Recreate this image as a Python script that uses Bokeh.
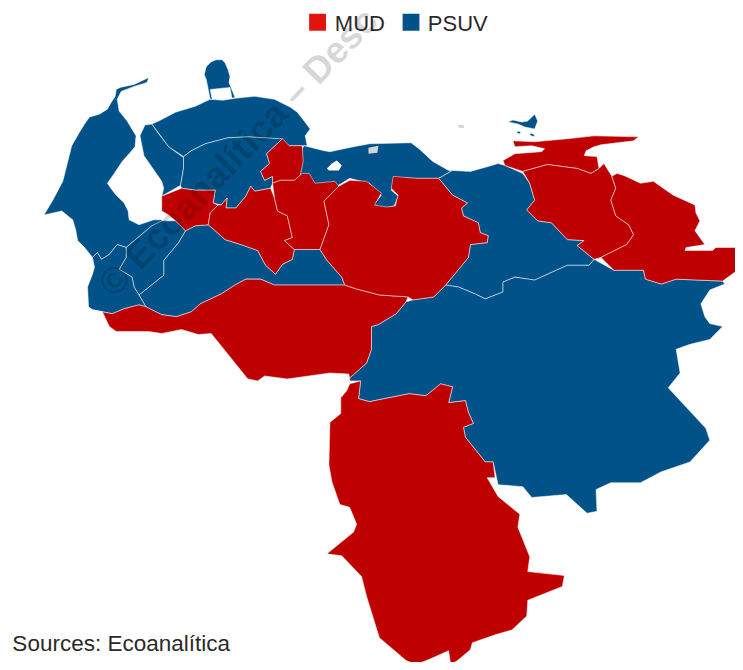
from bokeh.plotting import figure
from bokeh.embed import file_html
from bokeh.resources import INLINE
from bokeh.models import Range1d
from bokeh.core.properties import value

RED = "#bf0000"
BLUE = "#005288"
LEG_RED = "#e3140d"
LEG_BLUE = "#00538a"

zulia_w = [(150,78),(148,83),(135,87),(122,92),(118,100),(120,112),(128,122),(137,137),(136,148),(130,155),(123,163),(115,175),(108,185),(113,192),(117,197),(125,205),(129,213),(130,222),(140,227),(155,222),(163,222),(165,226),(153,228),(127,250),(118,247),(110,257),(102,262),(98,255),(93,260),(85,250),(78,243),(76,232),(73,222),(62,213),(44,217),(53,202),(63,183),(67,167),(70,155),(72,147),(80,133),(85,125),(90,118),(100,115),(108,110),(112,103),(116,97),(117,90),(121,88),(135,85)]
zulia_e = [(141,137),(146,126),(153,125),(160,135),(170,148),(185,159),(185,170),(182,187),(163,198),(165,190),(163,183),(145,157)]
falcon = [(153,125),(160,122),(177,113),(197,107),(212,100),(225,101),(237,99),(257,97),(277,100),(293,108),(300,113),(307,122),(313,130),(308,137),(310,147),(305,147),(292,147),(280,140),(250,138),(230,139),(207,145),(193,152),(185,158),(170,148)]
paraguana = [(218,60),(224,60),(227,63),(230,70),(232,77),(231,83),(237,98),(234,99),(232,88),(212,90),(214,100),(212,100),(210,90),(208,80),(206,75),(208,67),(213,62)]
lara = [(185,158),(193,152),(207,145),(230,139),(250,138),(285,140),(269,155),(272,165),(263,173),(267,182),(275,178),(275,185),(273,190),(257,193),(253,188),(248,198),(238,210),(228,210),(229,200),(223,207),(215,205),(217,192),(197,192),(183,190),(182,187),(185,170)]
trujillo = [(163,198),(183,190),(197,192),(217,192),(215,205),(220,207),(212,215),(210,227),(197,228),(187,233),(177,223),(170,217),(163,213)]
portuguesa = [(210,227),(212,215),(220,207),(223,207),(229,200),(228,210),(238,210),(248,198),(253,188),(257,193),(273,190),(277,200),(280,213),(290,218),(295,240),(287,243),(297,252),(295,262),(285,267),(278,277),(268,268),(260,253),(243,247),(227,242),(217,233)]
yaracuy = [(285,140),(292,147),(305,147),(306,163),(303,177),(297,182),(283,182),(275,185),(275,178),(267,182),(263,173),(272,165),(269,155)]
cojedes = [(275,185),(283,182),(297,182),(305,175),(312,175),(318,185),(338,183),(342,188),(327,203),(332,227),(323,252),(308,252),(297,252),(287,243),(295,240),(290,218),(280,213),(277,200)]
barinas = [(187,233),(197,228),(210,227),(217,233),(227,242),(243,247),(260,253),(268,268),(278,277),(285,267),(295,262),(297,252),(323,252),(330,263),(345,280),(348,288),(323,288),(307,288),(290,288),(277,288),(263,282),(248,282),(237,288),(223,297),(202,307),(193,315),(178,320),(163,318),(147,310),(140,298),(165,278),(165,263),(180,245)]
merida = [(127,250),(153,228),(163,223),(177,223),(187,233),(180,245),(165,263),(165,278),(140,298),(135,290),(133,280),(120,272),(127,260)]
tachira = [(93,260),(98,255),(102,262),(110,257),(118,247),(127,250),(127,260),(120,272),(133,280),(135,290),(140,298),(147,310),(140,308),(125,312),(113,317),(93,313),(89,310),(88,290),(93,277),(95,270)]
apure = [(92,313),(113,317),(125,312),(140,308),(147,310),(163,318),(178,320),(193,315),(202,307),(223,297),(237,288),(248,282),(263,282),(277,288),(290,288),(307,288),(323,288),(348,288),(360,292),(383,298),(412,300),(410,305),(400,317),(382,328),(375,330),(375,353),(370,367),(353,382),(352,378),(333,377),(290,383),(267,380),(260,385),(250,383),(213,337),(200,338),(183,333),(163,337),(150,335),(117,335),(110,330),(103,315)]
guarico = [(342,188),(353,182),(370,183),(385,195),(378,207),(390,209),(399,208),(402,197),(395,190),(397,178),(420,180),(443,180),(457,197),(472,205),(466,210),(468,218),(483,225),(485,235),(493,238),(492,245),(475,247),(473,260),(450,288),(438,300),(417,303),(412,300),(383,298),(360,292),(348,288),(345,280),(330,263),(323,252),(332,227),(327,203)]
central = [(307,147),(327,152),(333,153),(357,148),(373,145),(415,144),(423,150),(437,163),(453,172),(457,172),(443,180),(420,180),(398,179),(395,192),(402,198),(398,208),(388,210),(377,207),(385,197),(373,185),(353,180),(340,188),(332,185),(318,187),(310,177),(303,180),(305,150)]
anzoategui = [(443,180),(457,172),(475,173),(493,168),(503,165),(510,167),(528,175),(535,185),(540,202),(532,212),(543,223),(557,225),(573,242),(590,243),(583,248),(600,262),(595,268),(573,268),(553,277),(540,283),(520,280),(508,285),(508,295),(490,302),(480,297),(463,290),(450,288),(473,260),(475,247),(492,245),(493,238),(485,235),(483,225),(468,218),(466,210),(472,205),(457,197)]
bolivar = [(417,303),(438,300),(450,288),(463,290),(480,297),(490,302),(508,295),(508,285),(520,280),(540,283),(553,277),(573,268),(595,268),(600,262),(620,273),(650,273),(652,282),(668,287),(683,282),(730,284),(732,287),(717,293),(708,307),(712,320),(717,327),(730,330),(717,343),(697,348),(683,353),(687,377),(675,392),(713,433),(717,445),(697,467),(668,477),(647,488),(617,488),(602,495),(603,517),(593,519),(572,500),(537,503),(528,492),(503,490),(498,467),(490,467),(470,442),(468,432),(478,428),(473,417),(470,405),(453,407),(457,391),(445,388),(430,400),(413,398),(373,406),(362,403),(364,385),(353,385),(353,382),(370,367),(375,353),(375,330),(382,328),(400,317),(410,305)]
amazonas = [(353,388),(364,385),(362,403),(373,406),(413,398),(430,400),(445,388),(457,391),(453,407),(470,405),(473,417),(478,428),(468,432),(470,442),(490,467),(498,467),(500,483),(492,483),(503,502),(525,520),(523,533),(535,563),(533,578),(570,582),(568,593),(533,607),(532,623),(517,637),(500,642),(477,650),(475,657),(462,668),(455,672),(453,658),(433,667),(420,672),(410,668),(383,645),(370,603),(365,583),(345,562),(330,560),(357,538),(360,530),(353,513),(343,510),(335,487),(332,470),(333,427),(344,418),(344,402),(350,395)]
sucre = [(508,162),(520,155),(547,153),(550,150),(537,147),(520,148),(518,142),(540,143),(573,140),(600,137),(645,138),(640,142),(607,146),(600,148),(592,152),(590,157),(603,158),(605,170),(597,175),(583,170),(553,166),(528,173),(510,167)]
monagas = [(528,173),(553,166),(583,170),(597,175),(605,170),(610,165),(618,178),(622,190),(617,202),(622,218),(635,227),(640,237),(633,247),(607,260),(600,262),(583,248),(590,243),(573,242),(557,225),(543,223),(532,212),(540,202),(535,185)]
delta = [(618,178),(623,175),(630,177),(647,185),(660,183),(680,197),(702,207),(703,215),(707,223),(702,233),(712,247),(693,250),(692,253),(720,253),(723,250),(743,250),(745,273),(730,284),(683,282),(668,287),(652,282),(650,273),(620,273),(607,260),(633,247),(640,237),(635,227),(622,218),(617,202),(622,190)]
margarita = [(513,123),(518,121),(527,123),(533,122),(540,115),(543,122),(540,130),(530,128),(523,125)]
cubagua = [(523,132),(526,133),(525,135),(522,134)]
coche = [(536,134),(540,136),(539,138),(535,136)]
lake_valencia = [(330,170),(335,165),(340,162),(345,167),(342,172),(332,172)]
gray_isles = [[(462,126),(468,126),(469,129),(464,129)], [(372,149),(382,147),(381,154),(372,155)]]

blue_states = [zulia_w, zulia_e, falcon, paraguana, lara, barinas, merida, tachira, central, anzoategui, bolivar, margarita, cubagua, coche]
red_states = [trujillo, portuguesa, yaracuy, cojedes, apure, guarico, amazonas, sucre, monagas, delta]

series = ["MUD", "PSUV"]
footer = "Sources: Ecoanalítica"
watermark = "© Ecoanalítica – Desc"

p = figure(width=735, height=662, output_backend="svg", toolbar_location=None,
           x_range=Range1d(0, 743), y_range=Range1d(670, 0), min_border=0,
           outline_line_color=None)
p.xaxis.visible = False
p.yaxis.visible = False
p.xgrid.visible = False
p.ygrid.visible = False

def draw(states, color):
    p.patches([[q[0] for q in s] for s in states], [[q[1] for q in s] for s in states],
              fill_color=color, line_color="#ffffff", line_alpha=0.5, line_width=1)

draw(blue_states, BLUE)
draw(red_states, RED)
p.patch([q[0] for q in lake_valencia], [q[1] for q in lake_valencia], fill_color="white", line_color=None)
p.patches([[q[0] for q in s] for s in gray_isles], [[q[1] for q in s] for s in gray_isles],
          fill_color="#d5d5d5", line_color=None)

p.text([106], [293], text=[watermark], angle=0.805, text_font=value("Liberation Sans"),
       text_font_style="bold", text_font_size="37px", text_color="#000000", text_alpha=0.17,
       text_baseline="middle")

p.rect([320.5, 415], [22, 22], 17, 17, fill_color=[LEG_RED, LEG_BLUE], line_color=None)
p.text([338, 432], [23.5, 23.5], text=series, text_font=value("Liberation Sans"), text_font_size="22px",
       text_color="#2a2a2a", text_baseline="middle")
p.text([12], [651], text=[footer], text_font=value("Liberation Sans"), text_font_size="22.5px",
       text_color="#2a2a2a", text_baseline="middle")

open("out.html", "w").write(file_html(p, INLINE))
